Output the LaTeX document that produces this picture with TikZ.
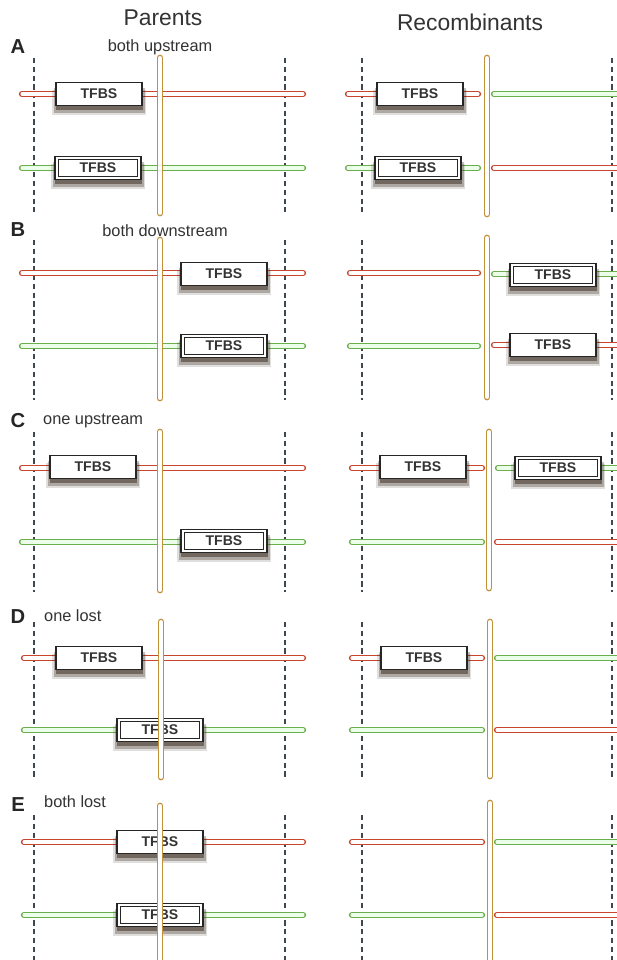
\documentclass[tikz,border=0pt]{standalone}
\usepackage{fontspec}
\setmainfont{Liberation Sans}
\usepackage{xcolor}
\usetikzlibrary{shadows}
\definecolor{redc}{HTML}{C8452E}
\definecolor{greenc}{HTML}{6DAE4C}
\definecolor{barc}{HTML}{C1913A}
\definecolor{guidec}{HTML}{3E4650}
\definecolor{inkc}{HTML}{333333}
\definecolor{shadec}{HTML}{3A2A1E}
\tikzset{
  chrR/.style={draw=redc,double=white,line width=0.9pt,double distance=1.8pt,line cap=round},
  chrG/.style={draw=greenc,double=green!8!white,line width=0.9pt,double distance=1.8pt,line cap=round},
  xbar/.style={draw=barc,double=white,line width=0.85pt,double distance=2.2pt,line cap=round},
  guide/.style={guidec,line width=0.7pt,dash pattern=on 3pt off 2pt},
  tfbs/.style={draw=black!85,fill=white,line width=1pt,minimum width=1.72cm,minimum height=0.46cm,
    inner sep=0pt,font=\fontsize{8}{9}\selectfont\bfseries,text=inkc,
    drop shadow={shadow xshift=0pt,shadow yshift=-4.5pt,shadow scale=1.1,fill=shadec,opacity=0.15},
    drop shadow={shadow xshift=0.2pt,shadow yshift=-3.5pt,shadow scale=1.05,fill=shadec,opacity=0.3},
    drop shadow={shadow xshift=0.4pt,shadow yshift=-2.2pt,shadow scale=1.01,fill=shadec,opacity=0.5}},
  tfbsd/.style={tfbs,path picture={
    \draw[black!85,line width=0.7pt] ([shift={(1.8pt,-1.8pt)}]path picture bounding box.north west)
      rectangle ([shift={(-1.8pt,1.8pt)}]path picture bounding box.south east);}},
  head/.style={font=\fontsize{13}{15}\selectfont,text=inkc},
  sub/.style={font=\fontsize{9.3}{11}\selectfont,text=inkc},
  tag/.style={font=\fontsize{11.5}{13}\selectfont\bfseries,text=black!85}
}
\begin{document}
\begin{tikzpicture}[x=0.02cm,y=-0.02cm]
\useasboundingbox[fill=white] (0,0) rectangle (617,960);
% headers
\node[head] (par) at (163,18) {Parents};
\node[head] (rec) at (470,22) {Recombinants};
% guides
\foreach \ya/\yb in {58/212,240/400,432/592,622/778,815/965}
  \foreach \gx in {34,285,362,612}
    \draw[guide] (\gx,\ya) -- (\gx,\yb);
% A: both upstream
\node[tag] (tA) at (18,47) {A};
\node[sub] (sA) at (160,47) {both upstream};
\draw[chrR] (22,94) -- (303,94);
\draw[chrG] (22,168) -- (303,168);
\node[tfbs] (pA1) at (99,94) {TFBS};
\node[tfbsd] (pA2) at (98,168) {TFBS};
\draw[xbar] (160,58) -- (160,213);
\draw[chrR] (348,94) -- (478,94);
\draw[chrG] (494,94) -- (625,94);
\draw[chrG] (348,168) -- (478,168);
\draw[chrR] (494,168) -- (625,168);
\node[tfbs] (rA1) at (420,94) {TFBS};
\node[tfbsd] (rA2) at (418,168) {TFBS};
\draw[xbar] (487,58) -- (487,214);
% B: both downstream
\node[tag] (tB) at (18,230) {B};
\node[sub] (sB) at (165,231) {both downstream};
\draw[chrR] (22,273) -- (303,273);
\draw[chrG] (22,346) -- (303,346);
\node[tfbs] (pB1) at (224,274) {TFBS};
\node[tfbsd] (pB2) at (224,346) {TFBS};
\draw[xbar] (160,240) -- (160,398);
\draw[chrR] (350,273) -- (478,273);
\draw[chrG] (350,346) -- (478,346);
\draw[chrG] (494,274) -- (625,274);
\draw[chrR] (494,345) -- (625,345);
\node[tfbsd] (rB1) at (553,275) {TFBS};
\node[tfbs] (rB2) at (553,345) {TFBS};
\draw[xbar] (487,238) -- (487,397);
% C: one upstream
\node[tag] (tC) at (18,421) {C};
\node[sub,anchor=west] (sC) at (37,421) {one upstream};
\draw[chrR] (22,468) -- (303,468);
\draw[chrG] (22,542) -- (303,542);
\node[tfbs] (pC1) at (93,467) {TFBS};
\node[tfbsd] (pC2) at (224,541) {TFBS};
\draw[xbar] (160,432) -- (160,590);
\draw[chrR] (352,468) -- (482,468);
\draw[chrG] (498,468) -- (625,468);
\draw[chrG] (352,542) -- (482,542);
\draw[chrR] (497,542) -- (625,542);
\node[tfbs] (rC1) at (423,467) {TFBS};
\node[tfbsd] (rC2) at (558,468) {TFBS};
\draw[xbar] (489,432) -- (489,588);
% D: one lost
\node[tag] (tD) at (18,617) {D};
\node[sub,anchor=west] (sD) at (38,616) {one lost};
\draw[chrR] (24,658) -- (303,658);
\draw[chrG] (24,730) -- (303,730);
\node[tfbs] (pD1) at (99,658) {TFBS};
\node[tfbsd] (pD2) at (160,730) {TFBS};
\draw[xbar] (161,622) -- (161,777);
\draw[chrR] (352,658) -- (482,658);
\draw[chrG] (497,658) -- (625,658);
\draw[chrG] (352,730) -- (482,730);
\draw[chrR] (497,730) -- (625,730);
\node[tfbs] (rD1) at (424,658) {TFBS};
\draw[xbar] (490,622) -- (490,776);
% E: both lost
\node[tag] (tE) at (18,805) {E};
\node[sub,anchor=west] (sE) at (38,802) {both lost};
\draw[chrR] (24,842) -- (303,842);
\draw[chrG] (24,915) -- (303,915);
\node[tfbs] (pE1) at (160,842) {TFBS};
\node[tfbsd] (pE2) at (160,915) {TFBS};
\draw[xbar] (160,806) -- (160,968);
\draw[chrR] (352,842) -- (482,842);
\draw[chrG] (497,842) -- (625,842);
\draw[chrG] (352,915) -- (482,915);
\draw[chrR] (497,915) -- (625,915);
\draw[xbar] (490,803) -- (490,968);
\end{tikzpicture}
\end{document}
